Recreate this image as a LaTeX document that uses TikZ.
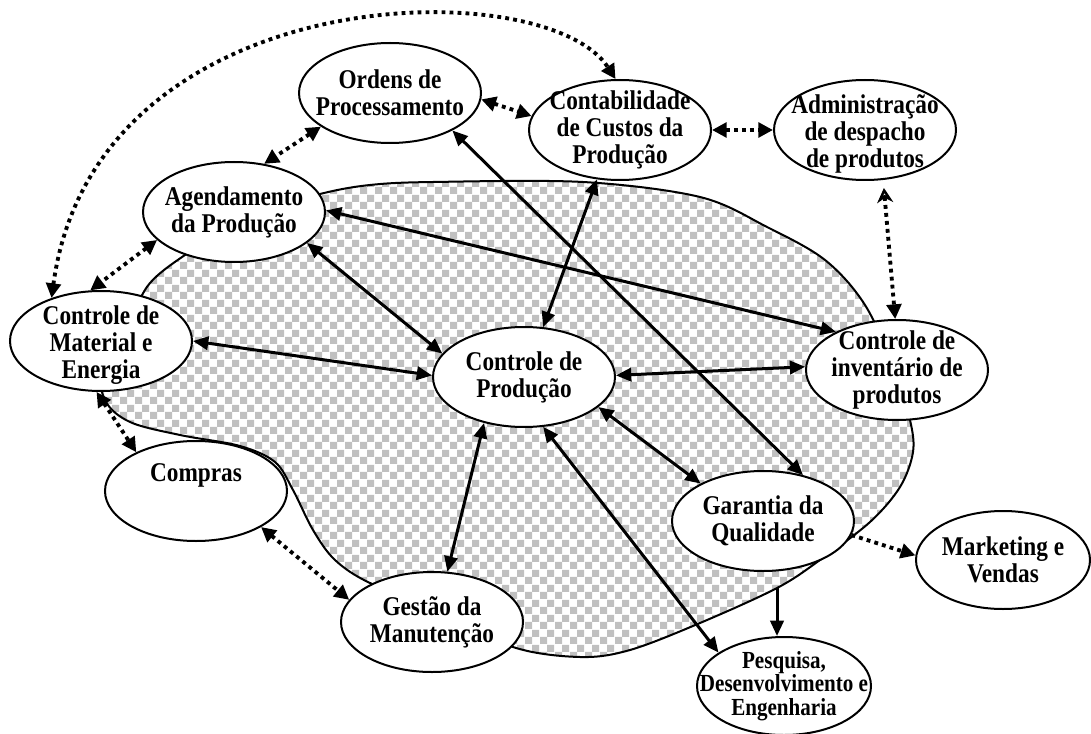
\documentclass[tikz,border=0pt]{standalone}
\usepackage{fontspec}
\setmainfont{Liberation Serif}[FakeStretch=0.86]
\usetikzlibrary{shapes.geometric,arrows.meta,patterns}

\definecolor{checkgray}{RGB}{192,192,192}

% checkerboard fill for the shaded region
\pgfdeclarepatternformonly{checks}{\pgfqpoint{0pt}{0pt}}{\pgfqpoint{11.25pt}{11.25pt}}{\pgfqpoint{11.25pt}{11.25pt}}{%
  \pgfpathrectangle{\pgfqpoint{0pt}{0pt}}{\pgfqpoint{5.625pt}{5.625pt}}%
  \pgfpathrectangle{\pgfqpoint{5.625pt}{5.625pt}}{\pgfqpoint{5.625pt}{5.625pt}}%
  \pgfusepath{fill}%
}

\begin{document}
\begin{tikzpicture}[x=0.75pt,y=-0.75pt,
  lbl/.style={align=center, inner sep=0pt,
    font=\fontsize{20.3}{20.25}\selectfont\bfseries},
  smalllbl/.style={lbl, font=\fontsize{18.4}{17.6}\selectfont\bfseries},
  box/.style={ellipse, draw, line width=1.5pt, fill=white, inner sep=0pt,
    minimum width=136.5pt, minimum height=75pt},
  txt/.style={label={[lbl]center:{#1}}},
  solidtip/.tip={Triangle[length=11.5pt,width=10pt]},
  dottip/.tip={Triangle[length=11pt,width=11pt]},
  link/.style={line width=2.25pt, solidtip-solidtip},
  onelink/.style={line width=2.25pt, -solidtip},
  dots/.style={line width=2.9pt, dash pattern=on 2.9pt off 3.1pt},
  dlink/.style={dots, dottip-dottip},
  donelink/.style={dots, -dottip},
]
\fill[white] (0,0) rectangle (1091,734);
\useasboundingbox (0,0) rectangle (1091,734);

% shaded production region
\draw[line width=1.5pt, pattern=checks, pattern color=checkgray]
  plot[smooth cycle, tension=0.55] coordinates {
   (130,318) (150,283) (185,255) (250,215) (320,194) (370,185) (433,182)
   (583,182) (700,197) (767,227) (825,260) (865,305) (895,370) (910,420)
   (913,452) (900,487) (870,522) (820,560) (777,588) (700,623) (630,650)
   (580,657) (513,647) (440,610) (370,583) (335,560) (313,530) (293,490)
   (275,462) (240,446) (180,435) (130,422) (105,400) (100,360)};

% functions
\node[box, txt={Ordens de\\Processamento}] (ord) at (390,93) {};
\node[box, txt={Contabilidade\\de Custos da\\Produção}] (contab) at (620,130) {};
\node[box, label={[lbl,yshift=-3pt]center:{Administração\\de despacho\\de produtos}}] (admin) at (865,130) {};
\node[box, txt={Agendamento\\da Produção}] (agend) at (234,212) {};
\node[box, label={[lbl,yshift=-3pt]center:{Controle de\\Material e\\Energia}}] (cmat) at (101,341) {};
\node[box, txt={Controle de\\Produção}] (cprod) at (524,377) {};
\node[box, txt={Controle de\\inventário de\\produtos}] (cinv) at (897,370) {};
\node[box, label={[lbl,yshift=12pt]center:{Compras}}] (compras) at (196,491) {};
\node[box, txt={Gestão da\\Manutenção}] (gestao) at (432,622) {};
\node[box, txt={Garantia da\\Qualidade}] (gar) at (763,521) {};
\node[box, minimum width=130.5pt, minimum height=73.5pt, txt={Marketing e\\Vendas}] (mkt) at (1003,560) {};
\node[box, minimum width=130.5pt, minimum height=73.5pt,
  label={[smalllbl]center:{Pesquisa,\\Desenvolvimento e\\Engenharia}}] (pesq) at (784,686) {};

% information flows inside the production region
\draw[link] (ord.-31) -- (gar.49);
\draw[link] (agend.1) -- (cinv.148);
\draw[link] (agend.-23) -- (cprod.164);
\draw[link] (contab.245) -- (cprod.69);
\draw[link] (cmat.0) -- (cprod.179);
\draw[link] (cprod.1) -- (cinv.178);
\draw[link] (cprod.-22) -- (gar.149);
\draw[link] (cprod.229) -- (gestao.73);
\draw[link] (cprod.291) -- (pesq.153);
\coordinate (qout) at (777,588);
\draw[onelink] (qout) -- (qout |- pesq.north);

% flows to the outer functions
\draw[dlink] (ord.-4) -- (contab.171);
\draw[dlink] (contab.east) -- (admin.west);
\draw[dlink] (ord.206) -- (agend.58);
\draw[dlink] (agend.200) -- (cmat.102);
\draw[dlink] (cmat.265) -- (compras.147);
\draw[dlink] (compras.-29) -- (gestao.165);
\draw[donelink] (gar.-9) -- (mkt.177);
\draw[dots, {Stealth[open,length=11pt,width=12pt,line width=2pt]}-dottip, shorten <=6pt]
  (admin.290) -- (cinv.92);
\draw[dlink] (cmat.139) .. controls (95,-22) and (545,-30) .. (contab.95);
\end{tikzpicture}
\end{document}
